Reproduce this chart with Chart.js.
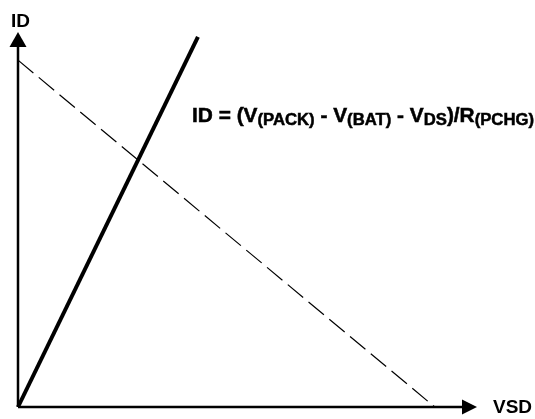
<!DOCTYPE html>
<html>
<head>
<meta charset="utf-8">
<script src="https://cdn.jsdelivr.net/npm/chart.js@4.4.0/dist/chart.umd.min.js"></script>
<style>
  html, body { margin: 0; padding: 0; background: #fff; }
  #wrap { width: 535px; height: 419px; }
</style>
</head>
<body>
<div id="wrap"><canvas id="c"></canvas></div>
<script>
// arbitrary units, 0..100 on both axes
const vsdMosfet = [0, 39.2];
const idMosfet = [0, 98.7];
const vsdLoad = [0, 90.8];
const idLoad = [92.5, 0];

const xLabel = 'VSD';
const yLabel = 'ID';
// formula pieces: [text, isSubscript]
const formula = [
  ['ID = (V', false], ['(PACK)', true], [' - V', false], ['(BAT)', true],
  [' - V', false], ['DS', true], [')/R', false], ['(PCHG)', true]
];

let points = function(xs, ys) {
  return xs.map((x, i) => ({ x: x, y: ys[i] }));
};

const axesPlugin = {
  id: 'axes',
  afterDatasetsDraw(chart) {
    const ctx = chart.ctx;
    const x = chart.scales.x, y = chart.scales.y;
    const x0 = x.getPixelForValue(0), y0 = y.getPixelForValue(0);
    const xEnd = x.getPixelForValue(100), yEnd = y.getPixelForValue(100);

    ctx.save();
    ctx.strokeStyle = '#000';
    ctx.fillStyle = '#000';
    ctx.lineWidth = 2.5;
    ctx.beginPath();
    ctx.moveTo(x0, y0);
    ctx.lineTo(x0, yEnd + 14);
    ctx.moveTo(x0, y0);
    ctx.lineTo(xEnd - 14, y0);
    ctx.stroke();

    // arrow heads
    ctx.beginPath();
    ctx.moveTo(x0, yEnd);
    ctx.lineTo(x0 - 8.5, yEnd + 15);
    ctx.lineTo(x0 + 8.5, yEnd + 15);
    ctx.closePath();
    ctx.fill();
    ctx.beginPath();
    ctx.moveTo(xEnd, y0);
    ctx.lineTo(xEnd - 15, y0 - 7.5);
    ctx.lineTo(xEnd - 15, y0 + 7.5);
    ctx.closePath();
    ctx.fill();

    ctx.font = 'bold 19px "Liberation Sans", Arial, sans-serif';
    ctx.textBaseline = 'alphabetic';
    ctx.fillText(yLabel, 11, 27);
    ctx.textBaseline = 'middle';
    ctx.fillText(xLabel, 493, y0 + 1);

    // formula
    const mainFont = 'bold 20px "Liberation Sans", Arial, sans-serif';
    const subFont = 'bold 16px "Liberation Sans", Arial, sans-serif';
    ctx.textBaseline = 'alphabetic';
    ctx.lineWidth = 0.5;
    let total = 0;
    formula.forEach(p => {
      ctx.font = p[1] ? subFont : mainFont;
      total += ctx.measureText(p[0]).width;
    });
    const left = 192, width = 342;
    ctx.translate(left, 0);
    ctx.scale(width / total, 1);
    let cx = 0;
    formula.forEach(p => {
      ctx.font = p[1] ? subFont : mainFont;
      const by = p[1] ? 124.5 : 121.5;
      ctx.fillText(p[0], cx, by);
      ctx.strokeText(p[0], cx, by);
      cx += ctx.measureText(p[0]).width;
    });
    ctx.restore();
  }
};

new Chart(document.getElementById('c'), {
  type: 'scatter',
  data: {
    datasets: [
      {
        data: points(vsdMosfet, idMosfet),
        showLine: true, borderColor: '#000', borderWidth: 4,
        pointRadius: 0, clip: false
      },
      {
        data: points(vsdLoad, idLoad),
        showLine: true, borderColor: '#000', borderWidth: 1.2,
        borderDash: [20, 7], pointRadius: 0, clip: false
      }
    ]
  },
  options: {
    responsive: true,
    maintainAspectRatio: false,
    animation: false,
    layout: { padding: { left: 18, right: 58, top: 32, bottom: 12 } },
    plugins: { legend: { display: false }, tooltip: { enabled: false } },
    scales: {
      x: { type: 'linear', min: 0, max: 100, display: false },
      y: { type: 'linear', min: 0, max: 100, display: false }
    }
  },
  plugins: [axesPlugin]
});
</script>
</body>
</html>
